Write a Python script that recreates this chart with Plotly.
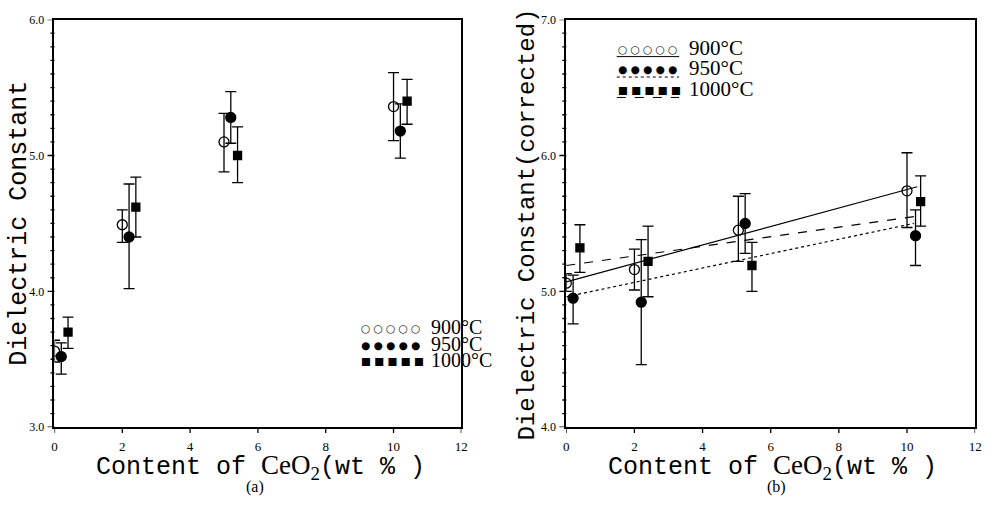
import plotly.graph_objects as go

# ---------------- data: panel (a) ----------------
x900_a = [0.0, 2.0, 5.0, 10.0]
y900_a = [3.56, 4.49, 5.10, 5.36]
hi900_a = [3.64, 4.60, 5.31, 5.61]
lo900_a = [3.48, 4.36, 4.88, 5.11]

x950_a = [0.2, 2.2, 5.2, 10.2]
y950_a = [3.52, 4.40, 5.28, 5.18]
hi950_a = [3.62, 4.79, 5.47, 5.38]
lo950_a = [3.39, 4.02, 5.09, 4.98]

x1000_a = [0.4, 2.4, 5.4, 10.4]
y1000_a = [3.70, 4.62, 5.00, 5.40]
hi1000_a = [3.81, 4.84, 5.21, 5.56]
lo1000_a = [3.58, 4.40, 4.80, 5.23]

# ---------------- data: panel (b) ----------------
x900_b = [0.0, 2.0, 5.05, 10.0]
y900_b = [5.06, 5.16, 5.45, 5.74]
hi900_b = [5.13, 5.31, 5.70, 6.02]
lo900_b = [5.00, 5.01, 5.22, 5.47]

x950_b = [0.2, 2.2, 5.25, 10.25]
y950_b = [4.95, 4.92, 5.50, 5.41]
hi950_b = [5.12, 5.38, 5.72, 5.60]
lo950_b = [4.76, 4.46, 5.28, 5.19]

x1000_b = [0.4, 2.4, 5.45, 10.4]
y1000_b = [5.32, 5.22, 5.19, 5.66]
hi1000_b = [5.49, 5.48, 5.36, 5.85]
lo1000_b = [5.14, 4.96, 5.00, 5.48]

# fitted lines (panel b)
fit_x900 = [0.0, 10.3]
fit_y900 = [5.07, 5.77]
fit_x950 = [0.0, 10.2]
fit_y950 = [4.96, 5.50]
fit_x1000 = [0.0, 10.2]
fit_y1000 = [5.19, 5.55]

labels = ["900°C", "950°C", "1000°C"]
xticks = [0, 2, 4, 6, 8, 10, 12]
ymajor_a = [3.0, 4.0, 5.0, 6.0]
ymajor_b = [4.0, 5.0, 6.0, 7.0]

W, H = 996, 512
BLACK = "#000000"
MONO = "Liberation Mono"
SERIF = "Liberation Serif"

X0_A, X1_A = 52, 463      # panel (a) plot area, px
X0_B, X1_B = 569, 982     # panel (b) plot area, px
Y_TOP, Y_BOT = 13, 432


def px(x):
    return x / W


def py(y):
    return 1 - y / H


def fine_ticks(major):
    vals = []
    for k in range(len(major) - 1):
        for j in range(10):
            vals.append(round(major[k] + j * 0.1, 2))
    vals.append(major[-1])
    return vals


def err(y, hi, lo):
    return dict(type="data", symmetric=False,
                array=[h - v for h, v in zip(hi, y)],
                arrayminus=[v - l for v, l in zip(y, lo)],
                color=BLACK, thickness=1.3, width=5.5)


fig = go.Figure()

series_a = [
    (x900_a, y900_a, hi900_a, lo900_a, "circle-open", 10),
    (x950_a, y950_a, hi950_a, lo950_a, "circle", 10),
    (x1000_a, y1000_a, hi1000_a, lo1000_a, "square", 8),
]
series_b = [
    (x900_b, y900_b, hi900_b, lo900_b, "circle-open", 10),
    (x950_b, y950_b, hi950_b, lo950_b, "circle", 10),
    (x1000_b, y1000_b, hi1000_b, lo1000_b, "square", 8),
]

fits = [(fit_x900, fit_y900, "solid"), (fit_x950, fit_y950, "dot"),
        (fit_x1000, fit_y1000, "dash")]
for fx, fy, dash in fits:
    fig.add_trace(go.Scatter(x=fx, y=fy, mode="lines", xaxis="x2", yaxis="y2",
                             line=dict(color=BLACK, width=1.2, dash=dash),
                             showlegend=False, hoverinfo="skip"))

for (xs, ys, hi, lo, sym, sz), lab in zip(series_a, labels):
    fig.add_trace(go.Scatter(x=xs, y=ys, mode="markers", name=lab,
                             xaxis="x", yaxis="y", showlegend=False,
                             marker=dict(symbol=sym, size=sz, color=BLACK,
                                         line=dict(color=BLACK, width=1.3)),
                             error_y=err(ys, hi, lo)))
for (xs, ys, hi, lo, sym, sz), lab in zip(series_b, labels):
    fig.add_trace(go.Scatter(x=xs, y=ys, mode="markers", name=lab,
                             xaxis="x2", yaxis="y2", showlegend=False,
                             marker=dict(symbol=sym, size=sz, color=BLACK,
                                         line=dict(color=BLACK, width=1.3)),
                             error_y=err(ys, hi, lo)))

ydom = [py(Y_BOT), py(Y_TOP)]
axis_common = dict(showline=True, linecolor=BLACK, linewidth=1.6, mirror=True,
                   showgrid=False, zeroline=False, ticks="outside",
                   tickcolor="rgba(0,0,0,0)", tickwidth=1)

fig.update_layout(
    width=W, height=H,
    margin=dict(l=0, r=0, t=0, b=0),
    paper_bgcolor="white", plot_bgcolor="white",
    showlegend=False,
    xaxis=dict(domain=[px(X0_A), px(X1_A)], range=[0, 12], tickvals=xticks,
               ticktext=[str(v) for v in xticks], anchor="y", ticklen=6,
               tickfont=dict(family=SERIF, size=13, color=BLACK), **axis_common),
    yaxis=dict(domain=ydom, range=[3, 6], tickvals=ymajor_a,
               ticktext=[f"{v:.1f}" for v in ymajor_a], anchor="x", ticklen=6,
               tickfont=dict(family=SERIF, size=12, color=BLACK), **axis_common),
    xaxis2=dict(domain=[px(X0_B), px(X1_B)], range=[0, 12], tickvals=xticks,
                ticktext=[str(v) for v in xticks], anchor="y2", ticklen=6,
                tickfont=dict(family=SERIF, size=13, color=BLACK), **axis_common),
    yaxis2=dict(domain=ydom, range=[4, 7], tickvals=ymajor_b,
                ticktext=[f"{v:.1f}" for v in ymajor_b], anchor="x2", ticklen=6,
                tickfont=dict(family=SERIF, size=12, color=BLACK), **axis_common),
)

shapes = []
# tick marks drawn as shapes at the axis positions
for yref, x0, major in [("y", X0_A, ymajor_a), ("y2", X0_B, ymajor_b)]:
    for v in fine_ticks(major):
        ln = 7 if v in major else 4
        shapes.append(dict(type="line", xref="paper", yref=yref,
                           x0=px(x0 - ln), x1=px(x0), y0=v, y1=v,
                           line=dict(color=BLACK, width=1.3)))
for xref in ["x", "x2"]:
    for v in xticks:
        shapes.append(dict(type="line", xref=xref, yref="paper", x0=v, x1=v,
                           y0=py(Y_BOT), y1=py(Y_BOT + 6),
                           line=dict(color=BLACK, width=1.3)))


def note(x, y, text, family, size, **kw):
    d = dict(x=px(x), y=py(y), xref="paper", yref="paper", text=text,
             showarrow=False, font=dict(family=family, size=size, color=BLACK),
             xanchor=kw.pop("xanchor", "center"), yanchor=kw.pop("yanchor", "middle"))
    d.update(kw)
    return d


ann = []
xtitle = ("Content of <span style=\"font-family:'Liberation Serif';font-size:27px\">"
          "CeO<sub>2</sub></span>(wt % )")
ann.append(note(92, 473, xtitle, MONO, 25, xanchor="left"))
ann.append(note(609, 473, xtitle, MONO, 25, xanchor="left"))
ann.append(note(17, 222, "Dielectric Constant", MONO, 25, textangle=-90))
ann.append(note(530, 224, "Dielectric Constant(corrected)", MONO, 24, textangle=-90))
ann.append(note(255, 494, "(a)", SERIF, 16))
ann.append(note(781, 494, "(b)", SERIF, 16))

glyphs = ["○ ○ ○ ○ ○", "● ● ● ● ●", "■ ■ ■ ■ ■"]
# legend panel (a)
for i, (g, lab) in enumerate(zip(glyphs, labels)):
    yy = [330, 347, 364][i]
    ann.append(note(360, yy, g, "DejaVu Sans", 10.5, xanchor="left"))
    ann.append(note(430, yy - 1, lab, SERIF, 20, xanchor="left"))
# legend panel (b)
for i, (g, lab, dash) in enumerate(zip(glyphs, labels, ["solid", "dot", "dash"])):
    yy = [43, 64, 85][i]
    ann.append(note(619, yy, g, "DejaVu Sans", 10.5, xanchor="left"))
    ann.append(note(691, yy - 1, lab, SERIF, 21, xanchor="left"))
    shapes.append(dict(type="line", xref="paper", yref="paper",
                       x0=px(620), x1=px(683), y0=py(yy + 8), y1=py(yy + 8),
                       line=dict(color=BLACK, width=1, dash=dash)))

fig.update_layout(annotations=ann, shapes=shapes)
fig.write_html("out.html")
